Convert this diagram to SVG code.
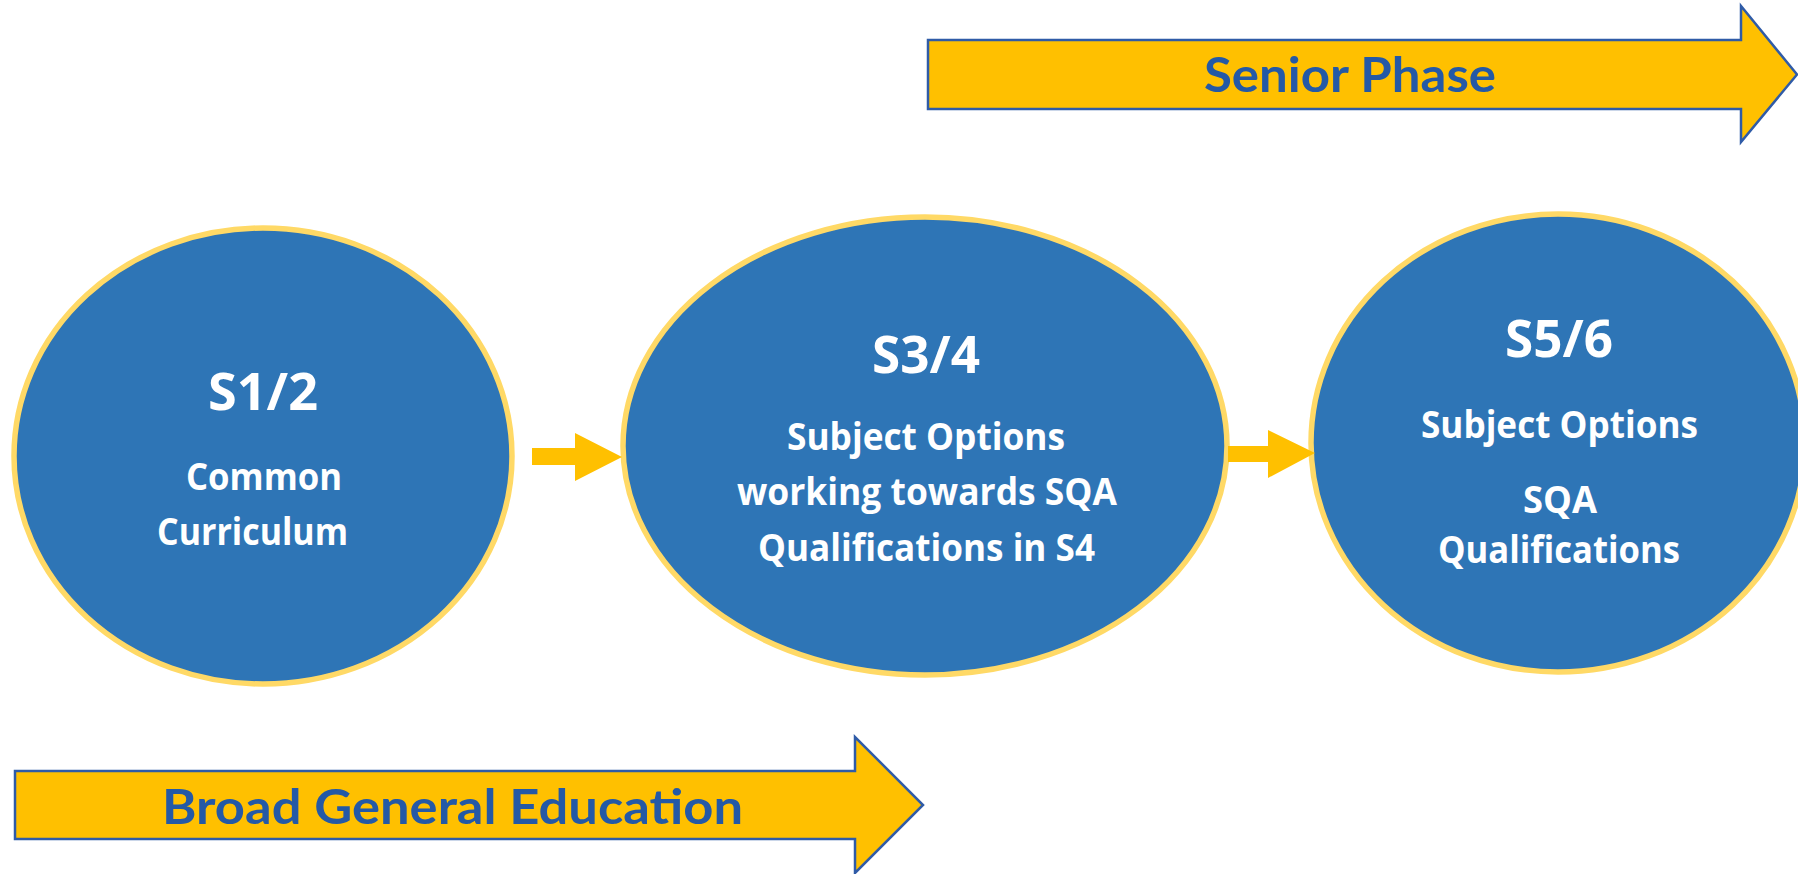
<svg xmlns="http://www.w3.org/2000/svg" width="1798" height="874" viewBox="0 0 1798 874">
<style>
.stage{fill:#2E75B6;stroke:#FFD966;stroke-width:5.5}
.lbl{fill:#FFFFFF;font-family:"Open Sans","Noto Sans","DejaVu Sans",sans-serif;font-weight:700;text-anchor:middle}
.big{font-size:52px}
.body{font-size:38px}
.band{fill:#FFC000;stroke:#2F5BA7;stroke-width:2.5;stroke-linejoin:miter}
.bandtxt{fill:#2459A6;font-family:"Lato","Liberation Sans",sans-serif;font-weight:700;font-size:48px;text-anchor:middle}
.conn{fill:#FFC000}
</style>
<rect width="1798" height="874" fill="#FFFFFF"/>
<g id="senior-phase">
<path class="band" d="M928,40 H1741 V6 L1797,74.5 L1741,142 V109 H928 Z"/>
<text class="bandtxt" x="1350" y="92" textLength="292" lengthAdjust="spacingAndGlyphs">Senior Phase</text>
</g>
<g id="broad-general-education">
<path class="band" d="M15,771 H855 V737 L923,805 L855,873 V839 H15 Z"/>
<text class="bandtxt" x="452.5" y="824" textLength="581" lengthAdjust="spacingAndGlyphs">Broad General Education</text>
</g>
<g id="s12">
<ellipse class="stage" cx="263" cy="456" rx="249" ry="228"/>
<text class="lbl big" x="263" y="410" textLength="110" lengthAdjust="spacingAndGlyphs">S1/2</text>
<text class="lbl body" x="264" y="490" textLength="156" lengthAdjust="spacingAndGlyphs">Common</text>
<text class="lbl body" x="252.5" y="545" textLength="191" lengthAdjust="spacingAndGlyphs">Curriculum</text>
</g>
<g id="s34">
<ellipse class="stage" cx="925" cy="446" rx="302" ry="229"/>
<text class="lbl big" x="926" y="373" textLength="108" lengthAdjust="spacingAndGlyphs">S3/4</text>
<text class="lbl body" x="926" y="450" textLength="278" lengthAdjust="spacingAndGlyphs">Subject Options</text>
<text class="lbl body" x="927" y="505" textLength="380" lengthAdjust="spacingAndGlyphs">working towards SQA</text>
<text class="lbl body" x="926.5" y="561" textLength="337" lengthAdjust="spacingAndGlyphs">Qualifications in S4</text>
</g>
<g id="s56">
<ellipse class="stage" cx="1558" cy="443" rx="247" ry="229"/>
<text class="lbl big" x="1559" y="357" textLength="108" lengthAdjust="spacingAndGlyphs">S5/6</text>
<text class="lbl body" x="1559.5" y="438" textLength="277" lengthAdjust="spacingAndGlyphs">Subject Options</text>
<text class="lbl body" x="1560" y="513" textLength="74" lengthAdjust="spacingAndGlyphs">SQA</text>
<text class="lbl body" x="1559" y="563" textLength="242" lengthAdjust="spacingAndGlyphs">Qualifications</text>
</g>
<g id="connectors">
<polygon class="conn" points="532,448 575,448 575,433 622,457 575,481 575,465 532,465"/>
<polygon class="conn" points="1228,446 1268,446 1268,430 1315,453 1268,478 1268,462 1228,462"/>
</g>
</svg>
